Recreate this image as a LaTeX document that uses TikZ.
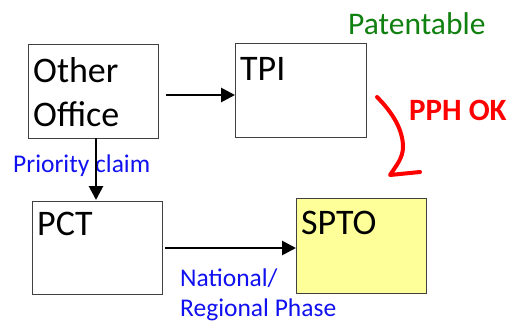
\documentclass[tikz,border=0pt]{standalone}
\usepackage{fontspec}
\setmainfont{Carlito}
\usetikzlibrary{arrows.meta}
\definecolor{boxline}{HTML}{404040}
\definecolor{sptofill}{HTML}{FFFF99}
\definecolor{labblue}{HTML}{1010F0}
\definecolor{labgreen}{HTML}{108010}
\definecolor{labred}{HTML}{FF0000}
\begin{document}
\begin{tikzpicture}[x=1pt,y=-1pt,
  box/.style={draw=boxline,line width=1.1pt,inner sep=0pt,anchor=north west},
  boxtext/.style={anchor=base west,inner sep=0pt,font=\fontsize{36}{44}\selectfont,align=left},
  flow/.style={line width=2.8pt,-{Triangle[length=14pt,width=14pt]}},
  bluelab/.style={text=labblue,inner sep=0pt,font=\fontsize{25.5}{30}\selectfont,align=left}]
\useasboundingbox (0,0) rectangle (520,325);
% boxes
\node[box,minimum width=130pt,minimum height=94pt] (oo) at (28,44) {};
\node[box,minimum width=131pt,minimum height=94pt] (tpi) at (235,43) {};
\node[box,minimum width=130pt,minimum height=93pt] (pct) at (32,201) {};
\node[box,fill=sptofill,minimum width=130pt,minimum height=95pt] (spto) at (296,198) {};
% box texts
\node[boxtext] (ootxt) at (33,126) {Other\\Office};
\node[boxtext] (tpitxt) at (240,80) {TPI};
\node[boxtext] (pcttxt) at (37,235) {PCT};
\node[boxtext] (sptotxt) at (301,234) {SPTO};
% labels
\node[bluelab,anchor=base west] (prio) at (13,172) {Priority claim};
\node[bluelab,anchor=base west] (natl) at (180,286) {National/};
\node[bluelab,anchor=base west] (regl) at (180,316) {Regional Phase};
\node[anchor=base west,inner sep=0pt,text=labgreen,font=\fontsize{31.5}{37}\selectfont] (pat) at (348,34) {Patentable};
\node[anchor=base west,inner sep=0pt,text=labred,font=\bfseries\fontsize{31}{37}\selectfont] (pph) at (409,120) {PPH OK};
% connectors
\coordinate (ooR) at (166,95);
\draw[flow] (ooR) -- (tpi.west |- ooR);
\draw[flow] (96,138) -- (96,200);
\coordinate (pctR) at (165,248);
\draw[flow] (pctR) -- (spto.west |- pctR);
% red hook arrow
\coordinate (ra) at (377,97);
\coordinate (rb) at (403,147);
\coordinate (rc) at (390,175);
\coordinate (rd) at (420,172);
\draw[labred,line width=4pt,line cap=round,line join=round]
  (ra) .. controls (393,113) and (403,130) .. (rb) .. controls (403,158) and (396,166) .. (rc) -- (rd);
\end{tikzpicture}
\end{document}
